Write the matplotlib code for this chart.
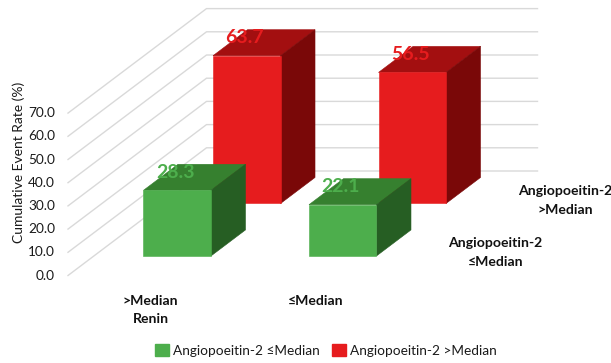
import matplotlib
matplotlib.use("Agg")
import matplotlib.pyplot as plt
from matplotlib.patches import Polygon, Patch

plt.rcParams["font.family"] = ["Lato", "DejaVu Sans"]

# Cumulative event rate (%) by renin group and angiopoietin-2 level
renin_groups = [">Median", "≤Median"]
low_ang2 = [28.3, 22.1]
high_ang2 = [63.7, 56.5]
ticks = [0, 10, 20, 30, 40, 50, 60, 70]
series_names = ["Angiopoeitin-2 ≤Median", "Angiopoeitin-2 >Median"]

WIDTH, HEIGHT = 611, 363
PX_PER_UNIT = 2.32
X0, Y0 = 68, 275.5          # front-left corner of the floor, in pixels
WALL_DX, WALL_DY = 138.5, 104.5 / PX_PER_UNIT
FLOOR_W = 331.0
BAR_W = 67.5
BAR_SHIFT = 0.6             # small nudge of the boxes along the floor

GREEN = ("#4DAE4C", "#36802F", "#265E23")
RED = ("#E61C1E", "#A30F10", "#7A0808")
GRID = "#D9D9D9"
TEXT = "#1A1A1A"

fig = plt.figure(figsize=(WIDTH / 100, HEIGHT / 100), dpi=100)
ax = fig.add_axes([0, 0, 1, 1])
ax.set_xlim(-X0, WIDTH - X0)
ax.set_ylim(-(HEIGHT - Y0) / PX_PER_UNIT, Y0 / PX_PER_UNIT)
ax.axis("off")


def project(x, value, depth):
    """Oblique projection: depth runs from 0 at the front to 1 at the back wall."""
    return x + WALL_DX * depth, value + WALL_DY * depth


def px_text(x, y, s, **kw):
    fig.text(x / WIDTH, 1 - y / HEIGHT, s, ha=kw.pop("ha", "center"), va="center", **kw)


def draw_box(x, value, d0, d1, colors, z):
    front, top, side = colors
    xr = x + BAR_W
    faces = [
        ([(x, value, d0), (xr, value, d0), (xr, value, d1), (x, value, d1)], top),
        ([(xr, 0, d0), (xr, 0, d1), (xr, value, d1), (xr, value, d0)], side),
        ([(x, 0, d0), (xr, 0, d0), (xr, value, d0), (x, value, d0)], front),
    ]
    for corners, color in faces:
        ax.add_patch(Polygon([project(*c) for c in corners], closed=True,
                             facecolor=color, edgecolor=color, linewidth=0.4, zorder=z))


def value_label(x, value, depth, color):
    # Centred a fixed distance above the top edge of the front face
    ax.annotate(f"{value}", project(x, value, depth), xytext=(-1, 13), textcoords="offset points",
                ha="center", va="center", fontsize=14, fontweight="bold", color=color, zorder=10)


# Wall and floor gridlines
for t in ticks:
    xs, ys = zip(project(0, t, 0), project(0, t, 1), project(FLOOR_W, t, 1))
    ax.plot(xs, ys, color=GRID, linewidth=1.0, zorder=1)
    px_text(55, Y0 - t * PX_PER_UNIT, f"{t:.1f}", ha="right", fontsize=9.8, color=TEXT)

# Back row first so the front row overlaps it
group_w = FLOOR_W / len(renin_groups)
for i, v in enumerate(high_ang2):
    draw_box(group_w * i + (group_w - BAR_W) / 2 + BAR_SHIFT, v, 0.689, 0.938, RED, 2 + i)
for i, v in enumerate(low_ang2):
    draw_box(group_w * i + (group_w - BAR_W) / 2 + BAR_SHIFT, v, 0.187, 0.436, GREEN, 5 + i)

# Value labels
for i, v in enumerate(high_ang2):
    value_label(group_w * i + group_w / 2, v, 0.689, RED[0])
for i, v in enumerate(low_ang2):
    value_label(group_w * i + group_w / 2, v, 0.187, GREEN[0])

px_text(19, 162, "Cumulative Event Rate (%)", rotation=90, fontsize=10, color=TEXT)

bold = dict(fontsize=10.1, fontweight="bold", color="#111111")
px_text(150.7, 300.7, renin_groups[0], **bold)
px_text(316, 300.7, renin_groups[1], **bold)
px_text(150.7, 319, "Renin", **bold)
px_text(565, 190.7, "Angiopoeitin-2", **bold)
px_text(565, 210, ">Median", **bold)
px_text(495.6, 243, "Angiopoeitin-2", **bold)
px_text(495.6, 261.5, "≤Median", **bold)

handles = [Patch(facecolor=GREEN[0], edgecolor=GREEN[0]), Patch(facecolor=RED[0], edgecolor=RED[0])]
fig.legend(handles, series_names, loc="center", bbox_to_anchor=(326 / WIDTH, 1 - 350.5 / HEIGHT),
           ncol=2, frameon=False, fontsize=9.8, labelcolor=TEXT, handlelength=1.0, handleheight=1.0,
           handletextpad=0.3, columnspacing=0.95, borderpad=0, borderaxespad=0)

fig.savefig("out.png", dpi=100)
